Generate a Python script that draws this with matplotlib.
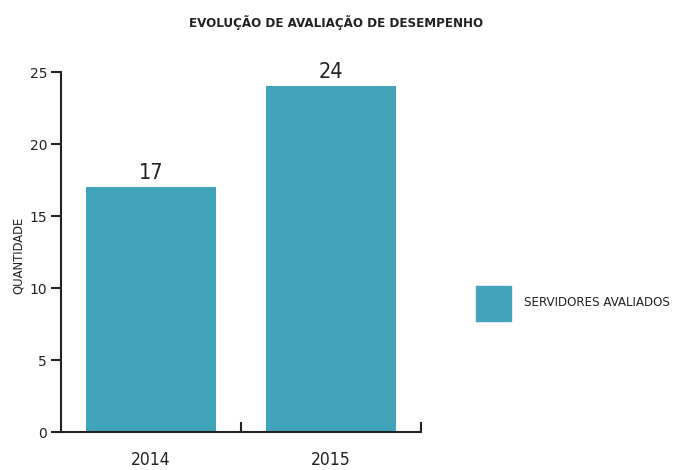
import matplotlib
matplotlib.use("Agg")
import matplotlib.pyplot as plt
from matplotlib.patches import Rectangle

# Data
years = ["2014", "2015"]
servidores = [17, 24]
y_ticks = [0, 5, 10, 15, 20, 25]

title = "EVOLUÇÃO DE AVALIAÇÃO DE DESEMPENHO"
y_label = "QUANTIDADE"
legend_label = "SERVIDORES AVALIADOS"

bar_color = "#42a4ba"
text_color = "#222222"
cond = dict(family="DejaVu Sans", stretch="condensed")

fig = plt.figure(figsize=(6.73, 4.70), dpi=100)
ax = fig.add_axes([61 / 673, 38 / 470, 360 / 673, 360 / 470])

x = list(range(len(years)))
ax.bar(x, servidores, width=0.72, color=bar_color, zorder=2)

for xi, v in zip(x, servidores):
    ax.text(xi, v + 0.3, str(v), ha="center", va="bottom",
            fontsize=15.5, color=text_color, **cond)

ax.set_xlim(-0.5, len(years) - 0.5)
ax.set_ylim(0, 25)
ax.set_yticks(y_ticks)
ax.tick_params(axis="y", direction="out", length=7, width=1.5,
               labelsize=10, colors=text_color, pad=3)

# category labels without tick marks, boundary ticks pointing up
ax.set_xticks(x)
ax.set_xticklabels(years, fontsize=12.5, color=text_color, **cond)
ax.tick_params(axis="x", length=0, pad=14)
ax.set_xticks([0.5, 1.5], minor=True)
ax.tick_params(axis="x", which="minor", direction="in", length=7, width=1.5,
               color=text_color)

for side in ["top", "right"]:
    ax.spines[side].set_visible(False)
for side in ["left", "bottom"]:
    ax.spines[side].set_linewidth(1.5)
    ax.spines[side].set_color(text_color)

fig.text(18 / 673, 1 - 255 / 470, y_label, rotation=90, ha="center", va="center",
         fontsize=9.3, color=text_color, **cond)

fig.text(0.5, 1 - 22 / 470, title, ha="center", va="center",
         fontsize=9.5, fontweight="bold", color=text_color, **cond)

# legend
fig.patches.append(Rectangle((476 / 673, 1 - 321 / 470), 35 / 673, 35 / 470,
                             transform=fig.transFigure, color=bar_color))
fig.text(524 / 673, 1 - 303 / 470, legend_label, ha="left", va="center",
         fontsize=9.5, color=text_color, **cond)

fig.savefig("out.png", dpi=100)
